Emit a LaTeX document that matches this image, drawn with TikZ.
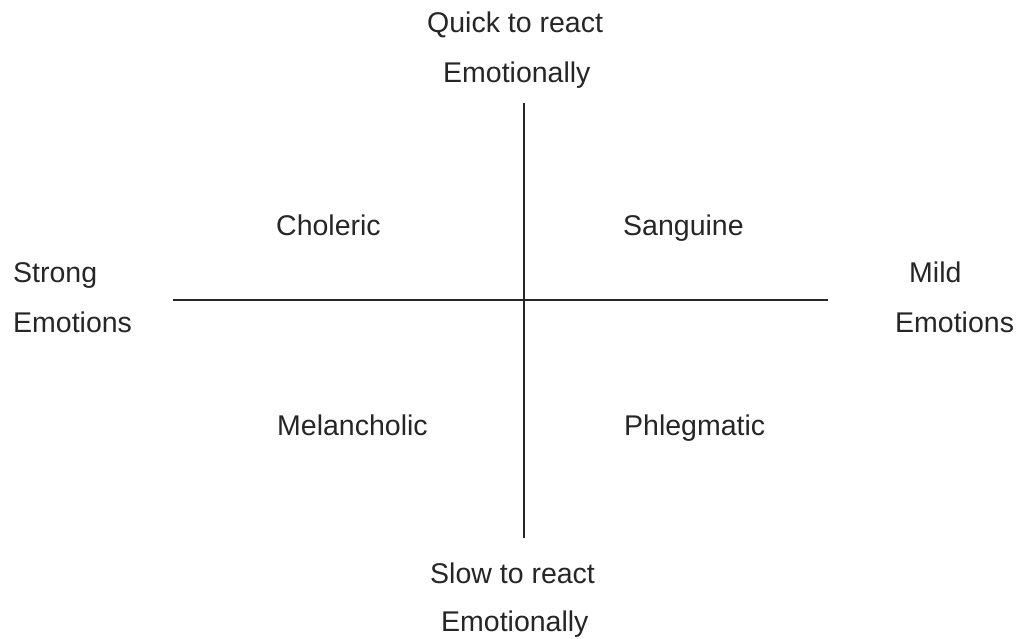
\documentclass[tikz,border=0pt]{standalone}
\usepackage{fontspec}
\setmainfont{Liberation Sans}
\begin{document}
\begin{tikzpicture}[x=1pt,y=-1pt,
  lbl/.style={anchor=base west,inner sep=0pt,font=\fontsize{28.5}{33}\selectfont,text=black!85},
  axis/.style={draw=black!85,line width=1.5pt}]
\useasboundingbox[fill=white] (0,0) rectangle (1019,639);
% axis end points
\coordinate (top) at (524,103);
\coordinate (bottom) at (524,538);
\coordinate (left) at (173,300);
\coordinate (right) at (828,300);
\draw[axis] (top) -- (bottom);
\draw[axis] (left) -- (right);
% axis labels
\node[lbl] (quick) at (427,33) {Quick to react};
\node[lbl] (quickemo) at (443,83) {Emotionally};
\node[lbl] (slow) at (430,583) {Slow to react};
\node[lbl] (slowemo) at (441,631) {Emotionally};
\node[lbl] (strong) at (13,282) {Strong};
\node[lbl] (strongemo) at (13,332) {Emotions};
\node[lbl] (mild) at (909,282) {Mild};
\node[lbl] (mildemo) at (895,332) {Emotions};
% quadrant labels
\node[lbl] (choleric) at (276,235) {Choleric};
\node[lbl] (sanguine) at (623,235) {Sanguine};
\node[lbl] (melancholic) at (277,435) {Melancholic};
\node[lbl] (phlegmatic) at (624,435) {Phlegmatic};
\end{tikzpicture}
\end{document}
